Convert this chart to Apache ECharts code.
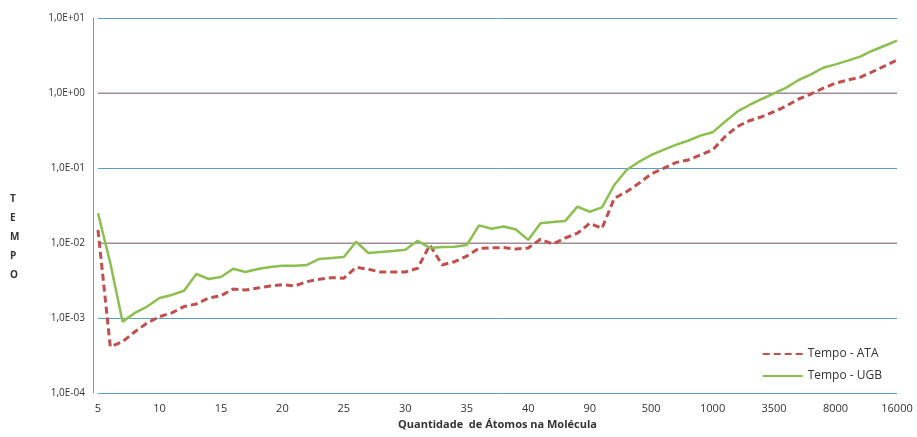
<!DOCTYPE html>
<html>
<head>
<meta charset="utf-8">
<script src="https://cdn.jsdelivr.net/npm/echarts@6/dist/echarts.min.js"></script>
<style>
html, body { margin: 0; padding: 0; background: #fff; }
#chart { width: 917px; height: 437px; }
</style>
</head>
<body>
<div id="chart"></div>
<script>
// categories: 5..40, then the larger molecules
var categories = ['5','6','7','8','9','10','11','12','13','14','15','16','17','18','19','20',
	'21','22','23','24','25','26','27','28','29','30','31','32','33','34','35','36','37','38','39','40',
	'50','60','70','80','90','100','200','300','400','500','600','700','800','900','1000',
	'1500','2000','2500','3000','3500','4500','5500','6500','7000','8000',
	'10000','12000','14000','15000','16000'];

var tempoAta = [0.0149,0.000414,0.000483,0.000656,0.000858,0.00104,0.00117,0.00142,0.00154,0.00185,
	0.00198,0.00244,0.00236,0.00251,0.00267,0.00278,0.00267,0.00305,0.00328,0.00345,
	0.0034,0.00474,0.00446,0.0041,0.0041,0.0041,0.0046,0.0094,0.0051,0.00563,
	0.0067,0.0085,0.0086,0.0087,0.0083,0.0086,0.0112,0.0097,0.0116,0.0135,
	0.0183,0.0157,0.0394,0.0483,0.0625,0.0832,0.099,0.118,0.128,0.149,
	0.174,0.261,0.356,0.427,0.483,0.563,0.671,0.832,0.97,1.16,
	1.35,1.49,1.62,1.92,2.29,2.75];

var tempoUgb = [0.0249,0.0054,0.00089,0.00117,0.00142,0.00185,0.00203,0.00231,0.00386,0.00331,
	0.00352,0.00454,0.0041,0.0045,0.00479,0.00498,0.00498,0.0051,0.00612,0.0063,
	0.0065,0.0104,0.00736,0.0076,0.0078,0.0081,0.0107,0.0086,0.00885,0.0089,
	0.0094,0.0172,0.0155,0.0166,0.0151,0.011,0.0183,0.019,0.0196,0.0305,
	0.0261,0.0299,0.0593,0.094,0.121,0.149,0.174,0.203,0.231,0.27,
	0.299,0.414,0.563,0.692,0.832,0.99,1.18,1.49,1.77,2.17,
	2.41,2.70,3.05,3.66,4.27,4.98];

// gridlines drawn in brown instead of blue
var brownLines = [1, 0.01];

var blue = '#5b9fc6', brown = '#c3837a';
var font = '"Open Sans", "Liberation Sans", sans-serif';

var chart = echarts.init(document.getElementById('chart'));
var graphics = [{
	type: 'text',
	left: 10,
	top: 190,
	style: {
		text: 'T\nE\nM\nP\nO',
		fontFamily: font, fontSize: 10, fontWeight: 'bold', fill: '#333',
		lineHeight: 19, align: 'center'
	}
}];
chart.setOption({
	animation: false,
	grid: { left: 98, right: 20, top: 18, bottom: 44 },
	xAxis: {
		type: 'category',
		data: categories,
		boundaryGap: false,
		name: 'Quantidade  de Átomos na Molécula',
		nameLocation: 'middle',
		nameGap: 14,
		nameTextStyle: { fontFamily: font, fontSize: 11, fontWeight: 'bold', color: '#333' },
		axisLine: { show: false },
		axisTick: { show: false },
		axisLabel: { interval: 4, fontFamily: font, fontSize: 11, color: '#333', margin: 10 },
		splitLine: { show: false }
	},
	yAxis: {
		type: 'log',
		logBase: 10,
		min: 0.0001,
		max: 10,
		offset: 5,
		axisLine: { show: true, lineStyle: { color: blue, width: 1 } },
		axisTick: { show: false },
		axisLabel: {
			fontFamily: font, fontSize: 10, color: '#333', margin: 8,
			formatter: function (v) {
				var e = Math.round(Math.log10(v));
				var s = Math.abs(e) < 10 ? '0' + Math.abs(e) : '' + Math.abs(e);
				return '1,0E' + (e < 0 ? '-' : '+') + s;
			}
		},
		splitLine: { show: true, lineStyle: { color: blue, width: 1 } }
	},
	legend: {
		orient: 'vertical',
		right: 30,
		bottom: 50,
		itemWidth: 40,
		itemHeight: 10,
		itemGap: 10,
		itemStyle: { opacity: 0 },
		textStyle: { fontFamily: font, fontSize: 12, color: '#333' },
		data: ['Tempo - ATA', 'Tempo - UGB']
	},
	graphic: graphics,
	series: [
		{
			name: 'Tempo - ATA',
			type: 'line',
			data: tempoAta,
			symbol: 'none',
			color: '#c0504d',
			lineStyle: { color: '#c0504d', width: 3, type: [7, 4] },
			z: 3
		},
		{
			name: 'Tempo - UGB',
			type: 'line',
			data: tempoUgb,
			symbol: 'none',
			color: '#8cbf4f',
			lineStyle: { color: '#8cbf4f', width: 2.5 },
			z: 3
		}
	]
});

// brown gridlines placed through the chart's own scales
brownLines.forEach(function (v) {
	var a = chart.convertToPixel({ gridIndex: 0 }, [0, v]);
	var b = chart.convertToPixel({ gridIndex: 0 }, [categories.length - 1, v]);
	graphics.push({
		type: 'line',
		z: 1,
		silent: true,
		shape: { x1: a[0], y1: a[1], x2: b[0], y2: b[1] },
		style: { stroke: brown, lineWidth: 1 }
	});
});
chart.setOption({ graphic: graphics });
</script>
</body>
</html>
